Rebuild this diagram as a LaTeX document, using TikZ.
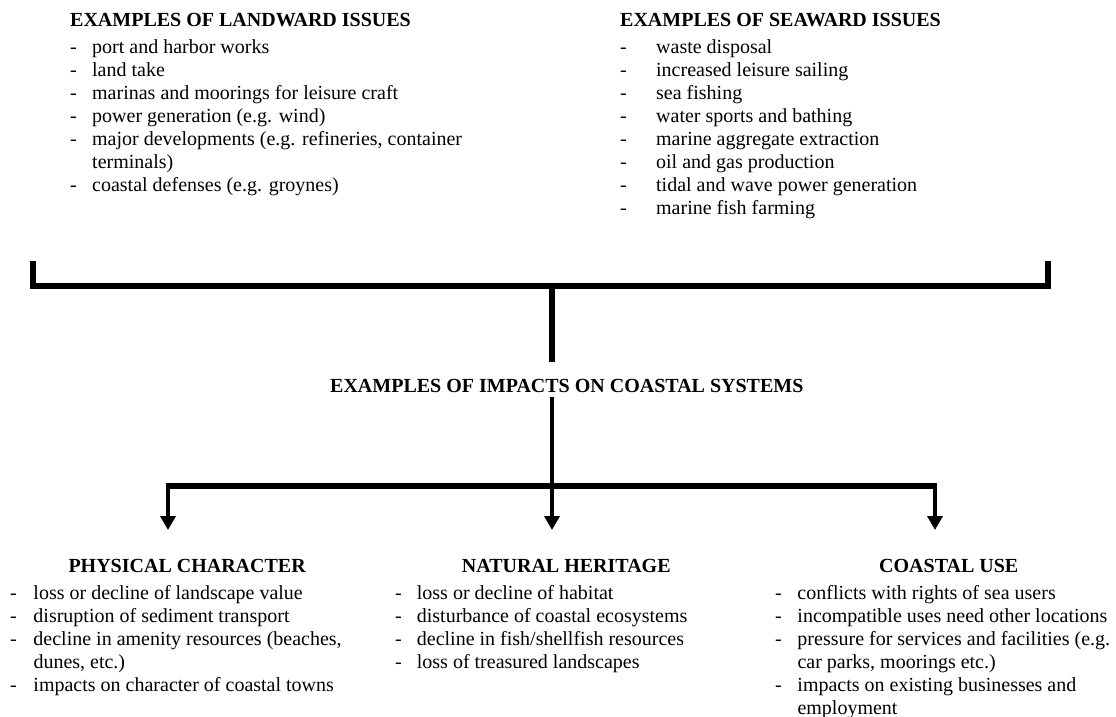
\documentclass[tikz,border=0pt]{standalone}
\usepackage{fontspec}
\setmainfont{Liberation Serif}
\usetikzlibrary{arrows.meta}
\begin{document}
\begin{tikzpicture}[x=1pt,y=-1pt,
  txt/.style={inner sep=0pt,anchor=base west,font=\fontsize{20}{23}\selectfont},
  head/.style={inner sep=0pt,anchor=base west,font=\fontsize{20}{23}\selectfont\bfseries},
  bar/.style={line width=6pt,line join=miter},
  arr/.style={line width=3.5pt,-{Triangle[width=15pt,length=14pt]}}]
\useasboundingbox (0,0) rectangle (1116,717);

% top headings and lists
\node[head] (land) at (70,26.7) {EXAMPLES OF LANDWARD ISSUES};
\node[txt] (landlist) at (70,53.3) {\begin{tabular}[t]{@{}l@{}l@{}}
\makebox[22pt][l]{-} & port and harbor works\\
\makebox[22pt][l]{-} & land take\\
\makebox[22pt][l]{-} & marinas and moorings for leisure craft\\
\makebox[22pt][l]{-} & power generation (e.g. wind)\\
\makebox[22pt][l]{-} & major developments (e.g. refineries, container\\
 & terminals)\\
\makebox[22pt][l]{-} & coastal defenses (e.g. groynes)
\end{tabular}};

\node[head] (sea) at (620,26.7) {EXAMPLES OF SEAWARD ISSUES};
\node[txt] (sealist) at (620,53.3) {\begin{tabular}[t]{@{}l@{}l@{}}
\makebox[36pt][l]{-} & waste disposal\\
\makebox[36pt][l]{-} & increased leisure sailing\\
\makebox[36pt][l]{-} & sea fishing\\
\makebox[36pt][l]{-} & water sports and bathing\\
\makebox[36pt][l]{-} & marine aggregate extraction\\
\makebox[36pt][l]{-} & oil and gas production\\
\makebox[36pt][l]{-} & tidal and wave power generation\\
\makebox[36pt][l]{-} & marine fish farming
\end{tabular}};

% top bracket
\coordinate (bl) at (33,261);
\coordinate (br) at (1048,261);
\coordinate (bc) at (552,286);
\coordinate (bs) at (552,362);
\draw[bar] (bl) -- (bl |- bc) -- (br |- bc) -- (br);
\draw[bar] (bc) -- (bs);

% middle title
\node[head] (impacts) at (330,392.3) {EXAMPLES OF IMPACTS ON COASTAL SYSTEMS};

% lower distribution bar and arrows
\coordinate (ts) at (552,396.5);
\coordinate (hl) at (168,486);
\coordinate (hr) at (935,486);
\coordinate (al) at (168,530);
\coordinate (am) at (552,530);
\coordinate (ar) at (935,530);
\draw[bar] ([xshift=-1.75pt]hl) -- ([xshift=1.75pt]hr);
\draw[arr] ([yshift=-3pt]hl) -- (al);
\draw[arr,line width=4pt] (ts) -- (am);
\draw[arr] ([yshift=-3pt]hr) -- (ar);

% bottom headings and lists
\node[head] (phys) at (68.3,572.3) {PHYSICAL CHARACTER};
\node[txt] (physlist) at (10,599) {\begin{tabular}[t]{@{}l@{}l@{}}
\makebox[23.3pt][l]{-} & loss or decline of landscape value\\
\makebox[23.3pt][l]{-} & disruption of sediment transport\\
\makebox[23.3pt][l]{-} & decline in amenity resources (beaches,\\
 & dunes, etc.)\\
\makebox[23.3pt][l]{-} & impacts on character of coastal towns
\end{tabular}};

\node[head] (nat) at (461.7,572.3) {NATURAL HERITAGE};
\node[txt] (natlist) at (395,599) {\begin{tabular}[t]{@{}l@{}l@{}}
\makebox[21.7pt][l]{-} & loss or decline of habitat\\
\makebox[21.7pt][l]{-} & disturbance of coastal ecosystems\\
\makebox[21.7pt][l]{-} & decline in fish/shellfish resources\\
\makebox[21.7pt][l]{-} & loss of treasured landscapes
\end{tabular}};

\node[head] (use) at (879,572.3) {COASTAL USE};
\node[txt] (uselist) at (775,599) {\begin{tabular}[t]{@{}l@{}l@{}}
\makebox[22.3pt][l]{-} & conflicts with rights of sea users\\
\makebox[22.3pt][l]{-} & incompatible uses need other locations\\
\makebox[22.3pt][l]{-} & pressure for services and facilities (e.g.\\
 & car parks, moorings etc.)\\
\makebox[22.3pt][l]{-} & impacts on existing businesses and\\
 & employment
\end{tabular}};
\end{tikzpicture}
\end{document}
